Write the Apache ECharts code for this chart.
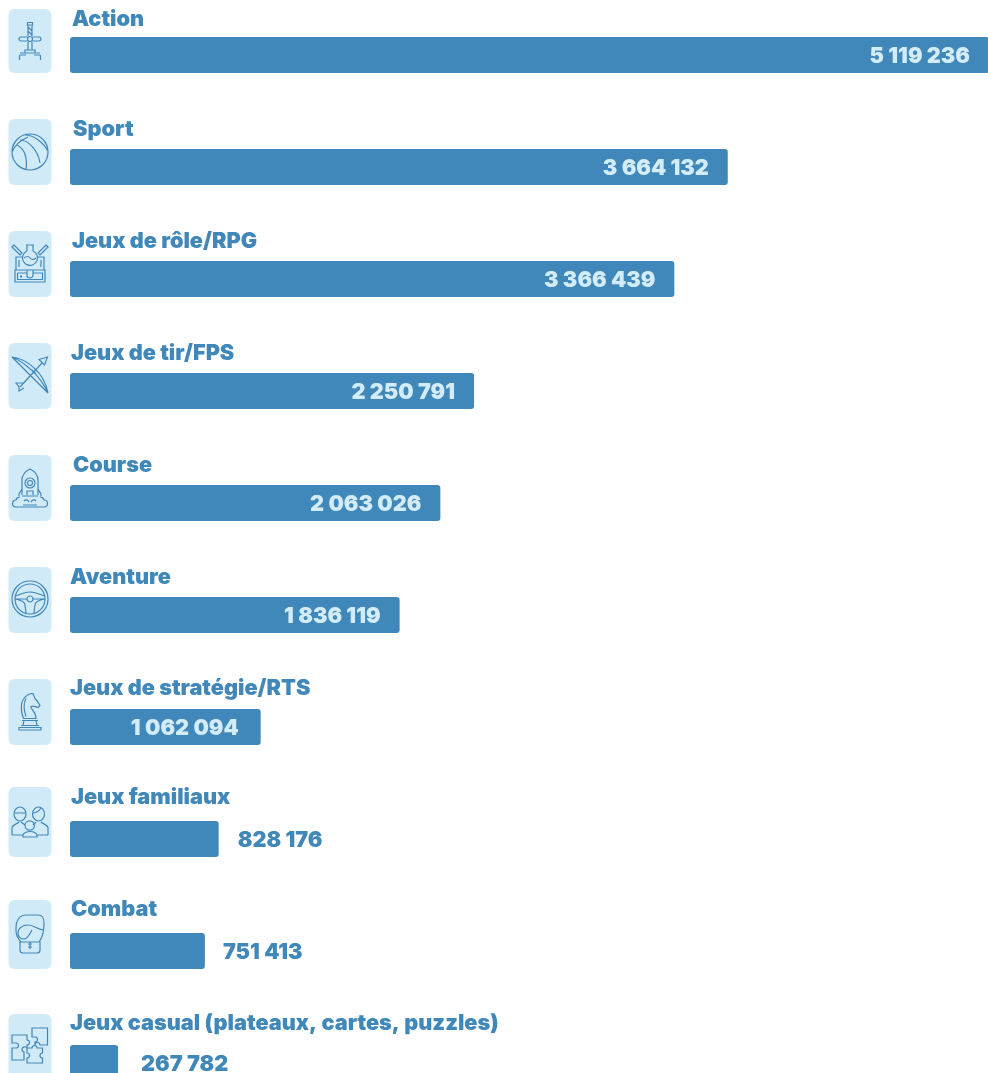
<!DOCTYPE html>
<html lang="fr">
<head>
<meta charset="utf-8">
<title>Genres de jeux vidéo</title>
<script src="https://cdn.jsdelivr.net/npm/echarts@6/dist/echarts.min.js"></script>
<style>
html,body{margin:0;padding:0;background:#fff}
#chart{width:988px;height:1073px}
</style>
</head>
<body>
<div id="chart"></div>
<script>
// Genres and their totals, longest bar first
const genres = ['Action','Sport','Jeux de rôle/RPG','Jeux de tir/FPS','Course','Aventure','Jeux de stratégie/RTS','Jeux familiaux','Combat','Jeux casual (plateaux, cartes, puzzles)'];
const totals = [5119236,3664132,3366439,2250791,2063026,1836119,1062094,828176,751413,267782];

// Placement of the heading, tile, pictogram and value relative to each bar
const headingRise = [36,38,38,38,38,38,39,42,42,40];
const headingShift = [2,3,2,1,3,0,0,1,1,0];
const tileRise = [46,48,48,48,48,48,48,52,51,49];
const iconDrop = [-14,-15,-16,-16,-15,-16,-15.5,-17,-17,-16];
const valueGap = [19,19,19,19,19,19,22,19,18,23];

const BLUE = '#4087ba';
const TILE = '#d0eaf8';
const PALE = '#d3ecf9';

// Line pictograms, one per genre, drawn around the tile's centre
const icons = [
  'M-2.5 -18.5h5v2.5h-5z M-2 -16V-5 M2 -16V-5 M-2 -14L2 -10 M-2 -10L2 -6 M-9 -4H-2.5 M-9 0H-2.5 M2.5 -4H9 M2.5 0H9 M-9 -4a2 2 0 1 0 0 4 M9 -4a2 2 0 1 1 0 4 M-2.5 -2a2.5 2.5 0 1 0 5 0a2.5 2.5 0 1 0 -5 0 M-2 1V9 M2 1V9 M-5 12V9H5V12 M-10 12H10 M-10.5 19V15q0 -1 1 -1H-4 M4 14H9.5q1 0 1 1V19',
  'M-18 0a18 18 0 1 0 36 0a18 18 0 1 0 -36 0 M-13 -7C-7 -4 -2 2 -4 18 M-10 -12C-2 -12 8 -2 10 11 M-5 -17C3 -17 12 -11 18 -1 M-18 0C-15 -7 -9 -12 -2 -15',
  'M-4 -18H4 M-3 -18V-12 M3 -18V-12 M-3 -12A7.5 7.5 0 1 0 3 -12 M-6 -5Q-2 -8 0 -5T6 -5 M-18 -16L-16 -18L-8 -10L-10 -8Z M18 -16L16 -18L8 -10L10 -8Z M-7 -6H-14V7 M7 -6H14V7 M-11 -3V4 M11 -3V4 M-15 7H15V19H-15Z M-12.5 10H-3 M3 10H12.5V16.5H-12.5V10 M-3 7v5a3 3 0 0 0 6 0v-5 M-10 13h2 M-10 14h2',
  'M-18 -18L18 18 M-18 -18C-3 -16 14 -3 18 18 M-18 -18C-6 -13 10 0 18 18 M-10 12L12 -12 M17.5 -18L9 -15.5L14.5 -10Z M-7 8L-14 8L-11 12L-11 16L-6 13 M2 -5L6 -1 M4 -7L8 -3',
  'M-8 7V-8C-8 -13 -4 -17 0 -19C4 -17 8 -13 8 -8V7 M-5 -5a5 5 0 1 0 10 0a5 5 0 1 0 -10 0 M-2.5 -5a2.5 2.5 0 1 0 5 0a2.5 2.5 0 1 0 -5 0 M-8 1L-11 6V8 M8 1L11 6V8 M-3 7V3H3V7 M-8 8H8 M-10 9a4 4 0 0 0 -4 3a3.5 3.5 0 0 0 0 7H14a3.5 3.5 0 0 0 0 -7a4 4 0 0 0 -4 -3 M-6 13a3 3 0 0 1 5 1 M6 13a3 3 0 0 0 -5 1 M-7 17h14',
  'M-18 0a18 18 0 1 0 36 0a18 18 0 1 0 -36 0 M-15 0a15 15 0 1 0 30 0a15 15 0 1 0 -30 0 M-3 0a3 3 0 1 0 6 0a3 3 0 1 0 -6 0 M-15 -3C-8 -5 -6 -7 0 -7C6 -7 8 -5 15 -3 M-15 0C-9 1 -5 3 -5 6L-4 14 M15 0C9 1 5 3 5 6L4 14 M-3 0H-14 M3 0H14',
  'M-6.5 7C-9 1 -10 -8 -6 -13C-4 -16 0 -18 3 -18L5 -13C7 -11 9 -8 10 -6L8 -4C5 -5 3 -6 1 -5C0 -3 6 0 6 7Z M-4 -13C-7 -8 -6 0 -4 5 M-8 9H8 M-6 9L-7 14 M6 9L7 14 M-9 14H9 M-11 16H11V18.5H-11Z',
  'M-16 -8a6 7 0 1 0 12 0a6 7 0 1 0 -12 0 M-16 -9H-4 M2.5 -8a6 7 0 1 0 12 0a6 7 0 1 0 -12 0 M2.5 -9C6 -9 9 -11 11 -14 M-18 13V6C-18 3 -13 2 -11 0 M-9 0L-5 3 M-18 13H-7 M18 13V6C18 3 13 2 11 0 M6 0L3 3 M18 13H7 M-5 3.5a4.7 4.7 0 1 0 9.4 0a4.7 4.7 0 1 0 -9.4 0 M-7 15V13C-7 11 -3 9.5 0 9.5C3 9.5 7 11 7 13V15Z',
  'M-9 8C-13 4 -14.5 0 -14 -6C-14 -14 -10 -19 -4 -19H8C12 -19 14 -16 14 -11C14 -3 13 3 9 8 M14 -4C8 -4 4 -9 -2 -9C-7 -9 -12 -6 -12 -1C-12 3 -9 5 -6 5C-2 5 0 -1 2 -4 M-10 8H10V16Q10 19 7 19H-7Q-10 19 -10 16Z M0 8V15 M-2 10H2 M-2 13H2',
  'M-18 -12H-3V-7a2.5 2.5 0 0 1 0 5V0H-5a2.5 2.5 0 0 0 -1 5V13H-18V1H-14a2.5 2.5 0 0 0 0 -5H-18Z M2 -19H17.5V-2H10a2.5 2.5 0 0 0 -5 0L5 -5a2.5 2.5 0 0 0 0 -5L2 -10Z M-3 1H2a2.5 2.5 0 0 1 5 0H12.5V6a2.5 2.5 0 0 0 0 5V16H-3V11a2.5 2.5 0 0 0 0 -5Z'
];

const formatTotal = v => String(v).replace(/\B(?=(\d{3})+$)/g, ' ');
const LABEL_FONT = {fontFamily: 'Inter', fontWeight: 900, fontSize: 21.7};

const barData = totals.map((v, i) => {
  const wide = v >= 1000000;
  return {
    value: v,
    label: {
      position: wide ? 'insideRight' : 'right',
      distance: valueGap[i],
      offset: [0, 1],
      color: wide ? PALE : BLUE
    }
  };
});

function renderRow(params, api) {
  const i = api.value(0);
  const p = api.coord([0, genres[i]]);
  const cx = p[0] - 40;
  return {
    type: 'group',
    children: [
      {
        type: 'rect',
        shape: {x: p[0] - 61.5, y: p[1] - tileRise[i], width: 43, height: tileRise[i] + 18, r: 6},
        style: {fill: TILE}
      },
      {
        type: 'path',
        x: cx,
        y: p[1] + iconDrop[i],
        shape: {pathData: icons[i]},
        style: {fill: null, stroke: BLUE, lineWidth: 1.2}
      },
      {
        type: 'text',
        x: p[0] + headingShift[i],
        y: p[1] - headingRise[i],
        style: {
          text: genres[i],
          fill: BLUE,
          font: '900 21.7px Inter',
          textAlign: 'left',
          textVerticalAlign: 'middle'
        }
      }
    ]
  };
}

const chart = echarts.init(document.getElementById('chart'), null, {renderer: 'canvas'});
chart.setOption({
  animation: false,
  grid: {left: 70, top: -1, width: 919, height: 1120, outerBoundsMode: 'none'},
  xAxis: {type: 'value', min: 0, max: 5119236, show: false},
  yAxis: {type: 'category', inverse: true, data: genres, show: false},
  series: [
    {
      type: 'bar',
      barWidth: 36,
      data: barData,
      itemStyle: {color: BLUE, borderRadius: 3},
      label: Object.assign({show: true, formatter: p => formatTotal(p.value)}, LABEL_FONT),
      silent: true
    },
    {
      type: 'custom',
      data: genres.map((g, i) => [i]),
      encode: {y: 0},
      renderItem: renderRow,
      clip: false,
      silent: true
    }
  ]
});
</script>
</body>
</html>
